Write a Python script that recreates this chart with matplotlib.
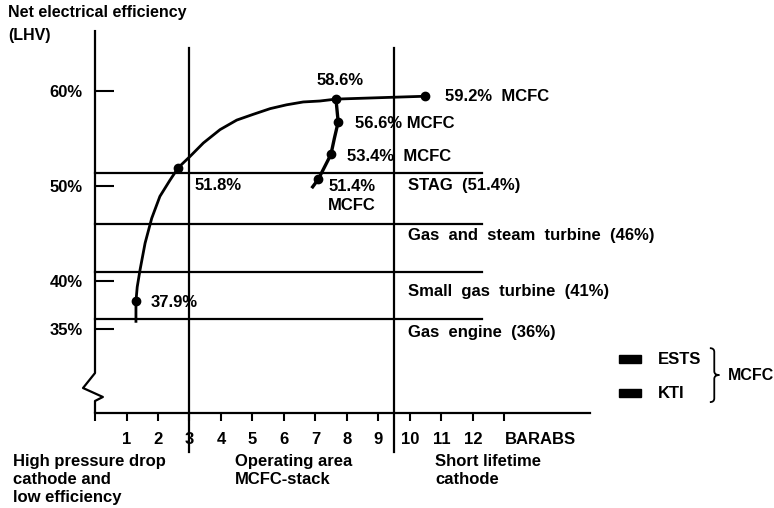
import matplotlib
matplotlib.use('Agg')
import matplotlib.pyplot as plt
from matplotlib.patches import Rectangle, PathPatch
from matplotlib.path import Path

plt.rcParams['font.family'] = ['Liberation Sans', 'DejaVu Sans']
plt.rcParams['font.weight'] = 'bold'

# ---- data ----
# main efficiency curve (pressure in bar abs, efficiency %)
curve_x = [1.30, 1.30, 1.34, 1.43, 1.59, 1.80, 2.06, 2.38, 2.64, 3.02, 3.44,
           3.97, 4.50, 5.02, 5.56, 6.08, 6.61, 7.14, 7.65, 9.52, 10.48]
curve_y = [35.8, 37.9, 39.4, 41.2, 44.0, 46.6, 48.9, 50.6, 51.9, 53.1, 54.5,
           55.9, 56.9, 57.5, 58.1, 58.5, 58.8, 58.9, 59.1, 59.3, 59.4]
curve_dot_x = [1.30, 2.64, 7.65, 10.48]
curve_dot_y = [37.9, 51.9, 59.1, 59.4]

# MCFC branch
branch_x = [7.65, 7.72, 7.60, 7.49, 7.09, 6.91]
branch_y = [59.1, 56.7, 55.0, 53.3, 50.7, 49.9]
branch_dot_x = [7.72, 7.49, 7.09]
branch_dot_y = [56.7, 53.3, 50.7]

# reference technologies
ref_values = [51.4, 46, 41, 36]
ref_labels = ['STAG  (51.4%)', 'Gas  and  steam  turbine  (46%)',
              'Small  gas  turbine  (41%)', 'Gas  engine  (36%)']
ref_end = 12.3

# region borders (bar abs)
borders = [3, 9.5]

y_ticks = [35, 40, 50, 60]
y_ticklabels = ['35%', '40%', '50%', '60%']
x_ticks = [0, 1, 2, 3, 4, 5, 6, 7, 8, 9, 10, 11, 12, 13]
x_ticklabels = ['', '1', '2', '3', '4', '5', '6', '7', '8', '9', '10', '11', '12', 'BARABS']

point_labels = [
    (3.17, 50.0, '51.8%', 'left'),
    (1.75, 37.8, '37.9%', 'left'),
    (7.78, 61.1, '58.6%', 'center'),
    (11.11, 59.4, '59.2%  MCFC', 'left'),
    (8.25, 56.5, '56.6% MCFC', 'left'),
    (8.00, 53.1, '53.4%  MCFC', 'left'),
    (7.40, 49.9, '51.4%', 'left'),
    (7.40, 47.9, 'MCFC', 'left'),
]
ref_label_y = [50.0, 44.85, 38.98, 34.58]

region_texts = [
    (-2.60, ['High pressure drop', 'cathode and', 'low efficiency']),
    (4.44, ['Operating area', 'MCFC-stack']),
    (10.79, ['Short lifetime', 'cathode']),
]
region_line_y = [21.15, 19.27, 17.38]

legend_names = ['ESTS', 'KTI']
legend_y = [31.84, 28.28]

fs = 12
lw = 1.6
col = 'black'

fig = plt.figure(figsize=(7.74, 5.08), dpi=100)
ax = fig.add_axes([0, 0, 1, 1])
ax.set_xlim(-3.016, 21.556)
ax.set_ylim(16.23, 69.49)

x_axis_y = 26.19

# spines
for s in ['top', 'right']:
    ax.spines[s].set_visible(False)
ax.spines['left'].set_position(('data', 0))
ax.spines['left'].set_visible(False)
ax.spines['bottom'].set_position(('data', x_axis_y))
ax.spines['bottom'].set_bounds(0, 15.7)
ax.spines['bottom'].set_linewidth(lw)

# y axis line with break
yax_x = [0, 0, -0.38, 0.25, 0, 0]
yax_y = [66.35, 30.38, 28.81, 27.87, 27.45, x_axis_y]
ax.plot(yax_x, yax_y, color=col, lw=lw, solid_capstyle='butt')

ax.set_yticks(y_ticks)
ax.set_yticklabels(y_ticklabels)
ax.set_xticks(x_ticks)
ax.set_xticklabels(x_ticklabels)
ax.tick_params(axis='y', direction='in', length=13.7, width=1.5, pad=9, labelsize=fs)
ax.tick_params(axis='x', direction='out', length=6, width=1.5, pad=7.5, labelsize=fs)
lbls = ax.get_xticklabels()
lbls[-1].set_horizontalalignment('left')

# reference lines
for v in ref_values:
    ax.plot([0, ref_end], [v, v], color=col, lw=lw)
for v, lab in zip(ref_label_y, ref_labels):
    ax.text(9.94, v, lab, fontsize=fs, ha='left', va='center')

# borders
for b in borders:
    ax.plot([b, b], [22.1, 64.46], color=col, lw=lw)

# curves
ax.plot(curve_x, curve_y, color=col, lw=2.0)
ax.plot(curve_dot_x, curve_dot_y, 'o', color=col, ms=6)
ax.plot(branch_x, branch_y, color=col, lw=2.4)
ax.plot(branch_dot_x, branch_dot_y, 'o', color=col, ms=6)

for x, y, t, ha in point_labels:
    ax.text(x, y, t, fontsize=fs, ha=ha, va='center')

# axis title
ax.text(-2.76, 68.13, 'Net electrical efficiency', fontsize=11.5, ha='left', va='center')
ax.text(-2.76, 65.82, '(LHV)', fontsize=11.5, ha='left', va='center')

# region texts
for x, lines in region_texts:
    for ly, line in zip(region_line_y, lines):
        ax.text(x, ly, line, fontsize=fs, ha='left', va='center')

# legend
for name, ly in zip(legend_names, legend_y):
    ax.add_patch(Rectangle((16.62, ly - 0.4), 0.70, 0.8, color=col))
    ax.text(17.87, ly, name, fontsize=fs, ha='left', va='center')

# brace
bx0, bx1, bx2 = 19.52, 19.66, 19.82
by_top, by_mid, by_bot = 32.99, 30.17, 27.33
verts = [(bx0, by_top), (bx1, by_top), (bx1, by_top - 0.4),
         (bx1, by_mid + 0.4), (bx1, by_mid), (bx2, by_mid),
         (bx1, by_mid), (bx1, by_mid - 0.4),
         (bx1, by_bot + 0.4), (bx1, by_bot), (bx0, by_bot)]
codes = [Path.MOVETO, Path.CURVE3, Path.CURVE3,
         Path.LINETO, Path.CURVE3, Path.CURVE3,
         Path.CURVE3, Path.CURVE3,
         Path.LINETO, Path.CURVE3, Path.CURVE3]
ax.add_patch(PathPatch(Path(verts, codes), fill=False, lw=1.3, color=col))
ax.text(20.10, 30.10, 'MCFC', fontsize=11.5, ha='left', va='center')

fig.savefig('out.png', dpi=100)
